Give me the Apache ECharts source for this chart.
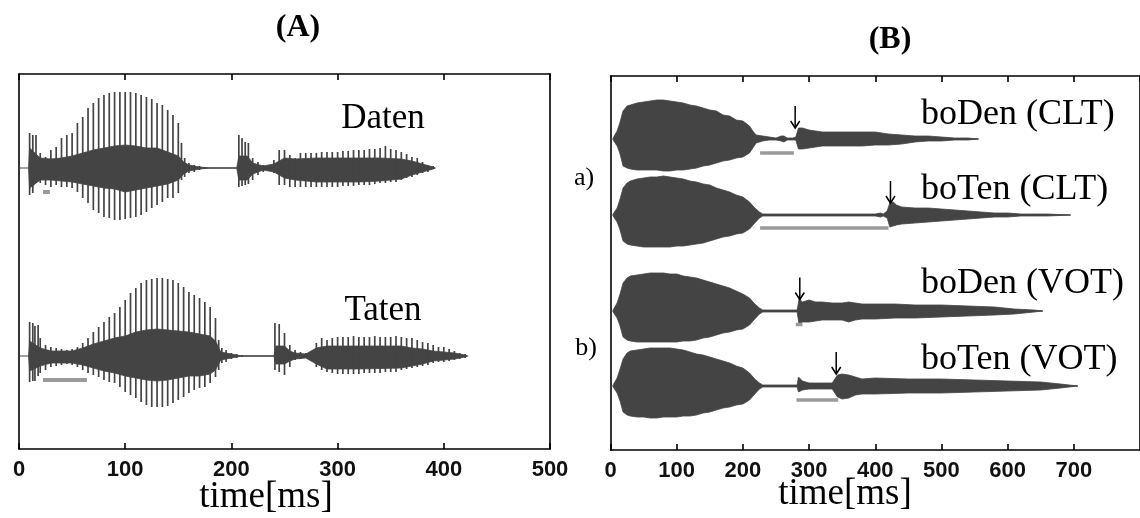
<!DOCTYPE html>
<html>
<head>
<meta charset="utf-8">
<script src="https://cdn.jsdelivr.net/npm/echarts@6/dist/echarts.min.js"></script>
<style>
  html, body { margin: 0; padding: 0; background: #fff; }
  #chart { width: 1140px; height: 518px; }
</style>
</head>
<body>
<div id="chart"></div>
<script>
// ---- data: [time ms, amplitude up, amplitude down] ----
// panel A, individual pitch pulses (sticks)
const datenSticks = [
  [10,35,27],[13,33,25],[16,33,12],[20,15,15],[25,11,17],[30,18,19],[35,21,17],[40,30,19],
  [45,33,19],[50,35,20],[55,45,24],[60,51,30],[65,60,35],[70,65,42],[75,70,45],[80,73,49],
  [85,75,50],[90,76,52],[95,76,52],[100,76,51],[105,76,50],[110,75,49],[115,73,47],[120,71,44],
  [125,69,40],[130,65,37],[135,63,34],[140,58,30],[145,53,30],[150,45,25],[153,25,12],[156,10,9],
  [160,5,5],[165,3,4],[170,2,2],[175,1,1],
  [207,33,19],[210,30,18],[213,26,17],[216,25,16],[220,10,12],[225,6,7],[230,3,4],[235,2,2],
  [240,8,5],[245,18,17],[250,18,17],[255,13,19],[260,10,19],[265,15,19],[270,15,19],[275,15,19],
  [280,15,19],[285,16,19],[290,16,19],[295,16,19],[300,16,19],[305,17,18],[310,17,18],[315,18,18],
  [320,18,17],[325,18,17],[330,19,17],[335,19,16],[340,20,15],[345,22,15],[350,19,14],[355,18,14],
  [360,16,12],[365,14,10],[370,11,9],[375,10,7],[380,6,5],[385,3,4],[390,2,1]
];
const tatenSticks = [
  [10,34,26],[13,33,25],[15,30,25],[18,31,20],[20,18,17],[25,11,14],[30,9,11],[35,8,10],
  [40,7,9],[45,6,8],[50,7,9],[55,9,11],[60,13,14],[65,18,17],[70,24,19],[75,29,21],
  [80,34,24],[85,39,26],[90,43,27],[95,49,31],[100,56,36],[105,63,39],[110,68,42],[115,73,46],
  [120,76,49],[125,77,51],[130,78,51],[135,78,51],[140,77,50],[145,76,47],[150,73,44],[155,69,41],
  [160,64,37],[165,61,34],[170,58,32],[175,54,31],[180,49,27],[185,38,21],[188,16,14],[191,8,7],
  [195,6,6],[200,3,3],[205,2,2],[210,1,1],
  [241,33,14],[245,32,16],[250,23,19],[255,11,11],[260,6,4],[265,4,3],[270,3,2],[275,3,2],
  [280,13,11],[285,18,14],[290,16,16],[295,18,17],[300,19,18],[305,19,18],[310,19,18],[315,20,18],
  [320,19,18],[325,19,17],[330,19,17],[335,20,17],[340,19,17],[345,19,16],[350,19,16],[355,20,16],
  [360,19,14],[365,18,13],[370,18,12],[375,16,11],[380,14,10],[385,13,9],[390,11,7],[395,9,6],
  [400,9,6],[405,7,5],[410,5,4],[415,3,3],[420,2,2]
];
// panel A, dense dark core of the waveform
const datenCore = [
  [9,0,0],[10,20,20],[20,10,12],[30,9,12],[40,10,13],[50,12,14],[60,15,16],[70,18,18],[80,20,20],
  [90,22,21],[100,23,24],[110,22,22],[120,20,20],[130,20,18],[140,16,16],[150,12,12],[155,6,6],
  [160,3,3],[170,1,1],[180,0,0],[205,0,0],[207,12,12],[215,12,12],[220,5,6],[230,2,2],[240,4,4],
  [250,10,10],[260,9,12],[280,10,14],[300,10,14],[320,10,14],[340,10,13],[360,9,11],[370,7,7],
  [380,4,4],[390,1,1],[392,0,0]
];
const tatenCore = [
  [9,0,0],[10,15,15],[20,8,10],[30,5,7],[40,5,7],[50,5,7],[60,8,9],[70,12,12],[80,15,15],
  [90,18,17],[100,20,20],[110,24,22],[120,26,24],[130,27,25],[140,26,24],[150,25,22],[160,24,20],
  [170,22,20],[180,20,18],[185,15,14],[190,4,4],[200,2,2],[210,0,0],[240,0,0],[242,10,8],
  [250,10,8],[255,5,5],[260,3,3],[270,2,2],[280,8,8],[290,10,13],[320,10,13],[360,10,12],
  [370,8,10],[380,7,8],[390,5,5],[400,4,4],[410,3,3],[420,1,1],[422,0,0]
];
// panel B, envelopes
const boDenCLT = [
  [4,1,1],[10,8,7],[14,16,14],[19,28,27],[25,33,29],[30,34,30],[40,36,31],[50,37,31],[60,38,31],
  [70,39,31],[80,39,32],[90,38,32],[100,37,31],[110,36,31],[120,34,30],[130,33,29],[140,31,27],
  [150,29,26],[160,28,24],[170,24,22],[180,23,21],[190,19,19],[200,18,18],[210,13,14],[215,8,9],
  [220,4,4],[230,3,2],[240,2,1],[250,1,1],[258,3,2],[262,3,3],[267,1,1],[275,1,1],[280,2,1],
  [284,11,10],[290,11,10],[300,9,9],[310,8,8],[320,7,7],[340,7,7],[360,7,7],[380,7,7],
  [400,7,6],[420,5,6],[440,4,5],[460,3,3],[480,3,2],[500,2,2],[520,1,1],[540,1,1],[556,0,0]
];
const boTenCLT = [
  [4,1,1],[10,7,7],[14,15,14],[19,27,26],[25,32,29],[30,34,30],[40,36,31],[50,37,32],[60,38,32],
  [70,38,32],[80,39,32],[90,38,32],[100,37,31],[110,36,31],[120,34,30],[130,33,29],[140,31,28],
  [150,30,26],[160,27,24],[170,25,22],[180,23,21],[190,20,19],[200,18,18],[210,13,14],[218,7,8],
  [225,3,3],[230,1,1],[400,1,1],[403,3,2],[408,2,2],[412,1,1],[418,4,3],[422,12,12],[427,13,11],
  [432,10,10],[440,8,9],[460,7,8],[480,7,7],[500,6,6],[520,5,5],[540,4,4],[560,3,3],[580,2,2],
  [600,2,2],[620,1,1],[640,1,1],[660,1,1],[695,0,0]
];
const boDenVOT = [
  [4,1,1],[10,8,7],[14,16,14],[19,28,26],[25,33,29],[30,35,30],[40,36,31],[50,37,31],[60,38,31],
  [70,38,31],[80,38,31],[90,37,31],[100,37,31],[110,35,30],[120,34,30],[130,33,29],[140,31,27],
  [150,29,26],[160,27,24],[170,25,22],[180,23,21],[190,20,19],[200,17,18],[210,13,14],[218,7,8],
  [225,3,3],[230,1,1],[282,1,1],[285,12,14],[290,9,11],[300,11,11],[310,9,10],[320,9,9],
  [335,8,9],[350,8,9],[360,9,11],[370,8,9],[380,7,8],[400,7,8],[430,7,7],[460,6,7],[500,6,6],
  [540,5,5],[580,4,4],[610,2,3],[640,1,1],[653,0,0]
];
const boTenVOT = [
  [4,1,1],[10,8,7],[14,16,14],[19,27,26],[25,33,29],[30,35,30],[40,36,31],[50,37,31],[60,38,32],
  [70,38,32],[80,38,31],[90,38,31],[100,37,31],[110,36,30],[120,34,30],[130,32,29],[140,31,27],
  [150,29,26],[160,27,24],[170,25,22],[180,23,21],[190,20,19],[200,18,18],[210,13,14],[218,7,8],
  [225,3,3],[230,1,1],[282,1,1],[284,9,6],[290,5,4],[300,3,3],[320,3,3],[335,3,3],[343,11,11],
  [350,12,13],[360,11,12],[370,9,9],[380,7,8],[400,8,8],[450,7,7],[500,7,7],[550,6,6],
  [600,5,5],[650,4,4],[680,2,2],[706,0,0]
];
// end of each recording [ms]
const endA = [392, 423];
const endB = [556, 695, 653, 706];
// grey duration bars [from, to] in ms
const barsA = [[22.6, 29.1], [22.6, 64]];
const barsB = [[226, 277], [226, 420], [280, 290], [281, 344]];
// arrow positions [ms]
const arrowsB = [279, 423, 286, 341];
const ticksA = [0, 100, 200, 300, 400, 500];
const ticksB = [0, 100, 200, 300, 400, 500, 600, 700, 800];

// ---- layout ----
const baseA = [281, 93];            // baselines (px above grid bottom)
const baseB = [311, 235, 139, 64];
const barOffA = [24, 24];
const barOffB = [14, 13, 13.5, 14];
const arrowLift = [11, 12, 11.5, 12];
const WAVE = '#444444';
const GREY = '#9a9a9a';

const chart = echarts.init(document.getElementById('chart'));

function area(ax, env, base, sign) {
  return {
    type: 'line', xAxisIndex: ax, yAxisIndex: ax, silent: true,
    symbol: 'none', animation: false,
    data: env.map(d => [d[0], base + sign * d[sign > 0 ? 1 : 2]]),
    lineStyle: { color: WAVE, width: 0.8 },
    areaStyle: { color: WAVE, opacity: 1, origin: base },
    z: 3
  };
}
function band(ax, env, base) {
  return [area(ax, env, base, 1), area(ax, env, base, -1)];
}
function sticks(ax, list, base) {
  return {
    type: 'custom', xAxisIndex: ax, yAxisIndex: ax, silent: true, animation: false,
    data: list.map(d => [d[0], base + d[1], base - d[2]]),
    encode: { x: 0, y: [1, 2] },
    renderItem: function (params, api) {
      const p1 = api.coord([api.value(0), api.value(1)]);
      const p2 = api.coord([api.value(0), api.value(2)]);
      return { type: 'line', shape: { x1: p1[0], y1: p1[1], x2: p2[0], y2: p2[1] },
        style: { stroke: WAVE, lineWidth: 1.7 } };
    },
    z: 4
  };
}
function flat(ax, end, base) {
  return {
    type: 'line', xAxisIndex: ax, yAxisIndex: ax, silent: true, symbol: 'none', animation: false,
    data: [[0, base], [end, base]], lineStyle: { color: WAVE, width: 1.1 }, z: 2
  };
}
function greyBar(ax, span, y, w) {
  return {
    type: 'line', xAxisIndex: ax, yAxisIndex: ax, silent: true, symbol: 'none', animation: false,
    data: [[span[0], y], [span[1], y]], lineStyle: { color: GREY, width: w, cap: 'butt' }, z: 5
  };
}
function arrow(t, y) {
  return {
    type: 'custom', xAxisIndex: 2, yAxisIndex: 2, silent: true, animation: false,
    data: [[t, y]],
    renderItem: function (params, api) {
      const p = api.coord([api.value(0), api.value(1)]);
      return { type: 'group', children: [
        { type: 'line', shape: { x1: p[0], y1: p[1] - 22, x2: p[0], y2: p[1] },
          style: { stroke: '#000', lineWidth: 1.5 } },
        { type: 'polyline', shape: { points: [[p[0] - 4.5, p[1] - 7], [p[0], p[1]], [p[0] + 4.5, p[1] - 7]] },
          style: { stroke: '#000', lineWidth: 1.5, fill: null } }
      ] };
    },
    z: 6
  };
}

const series = [];
[[datenSticks, datenCore], [tatenSticks, tatenCore]].forEach((w, i) => {
  series.push(flat(0, endA[i], baseA[i]));
  series.push(...band(0, w[1], baseA[i]));
  series.push(sticks(0, w[0], baseA[i]));
  series.push(greyBar(0, barsA[i], baseA[i] - barOffA[i], 4));
});
[boDenCLT, boTenCLT, boDenVOT, boTenVOT].forEach((env, i) => {
  series.push(flat(2, endB[i], baseB[i]));
  series.push(...band(2, env, baseB[i]));
  series.push(greyBar(2, barsB[i], baseB[i] - barOffB[i], 3.5));
  series.push(arrow(arrowsB[i], baseB[i] + arrowLift[i]));
});

const frame = { show: true, onZero: false, lineStyle: { color: '#000', width: 1.6 } };
const tickIn = { show: true, inside: true, length: 6, lineStyle: { color: '#000', width: 1.6 } };
const tickFont = { fontFamily: 'Liberation Sans', fontSize: 22, fontWeight: 'bold', color: '#111', margin: 10 };

function xAxes(grid, ticks) {
  const common = { type: 'value', gridIndex: grid, min: ticks[0], max: ticks[ticks.length - 1],
    interval: 100, splitLine: { show: false }, axisLine: frame, axisTick: tickIn };
  return [
    Object.assign({}, common, { position: 'bottom',
      axisLabel: Object.assign({}, tickFont, { showMaxLabel: grid === 0 }) }),
    Object.assign({}, common, { position: 'top', axisLabel: { show: false } })
  ];
}
function yAxes(grid, h) {
  const common = { type: 'value', gridIndex: grid, min: 0, max: h, splitLine: { show: false },
    axisLine: frame, axisTick: { show: false }, axisLabel: { show: false } };
  return [Object.assign({}, common, { position: 'left' }), Object.assign({}, common, { position: 'right' })];
}

function txt(text, x, y, font, align) {
  return { type: 'text', x: x, y: y, silent: true,
    style: { text: text, font: font, fill: '#000', textAlign: align || 'center', textVerticalAlign: 'middle' } };
}
const serif = '"Liberation Serif", "DejaVu Serif", serif';

chart.setOption({
  animation: false,
  backgroundColor: '#fff',
  grid: [
    { left: 19, top: 74, width: 531, height: 375 },
    { left: 610.5, top: 76, width: 532, height: 374 }
  ],
  xAxis: xAxes(0, ticksA).concat(xAxes(1, ticksB)),
  yAxis: yAxes(0, 375).concat(yAxes(1, 374)),
  series: series,
  graphic: [
    txt('(A)', 298, 28, 'bold 32px ' + serif),
    txt('(B)', 890, 40, 'bold 32px ' + serif),
    txt('Daten', 383, 119, '35px ' + serif),
    txt('Taten', 383, 311, '35px ' + serif),
    txt('boDen (CLT)', 921, 115, '36px ' + serif, 'left'),
    txt('boTen (CLT)', 921, 190, '36px ' + serif, 'left'),
    txt('boDen (VOT)', 921, 284, '36px ' + serif, 'left'),
    txt('boTen (VOT)', 921, 360, '36px ' + serif, 'left'),
    txt('a)', 584, 178, '26px ' + serif),
    txt('b)', 586, 348, '26px ' + serif),
    txt('time[ms]', 266, 497, '37px ' + serif),
    txt('time[ms]', 845, 494, '37px ' + serif)
  ]
});
</script>
</body>
</html>
